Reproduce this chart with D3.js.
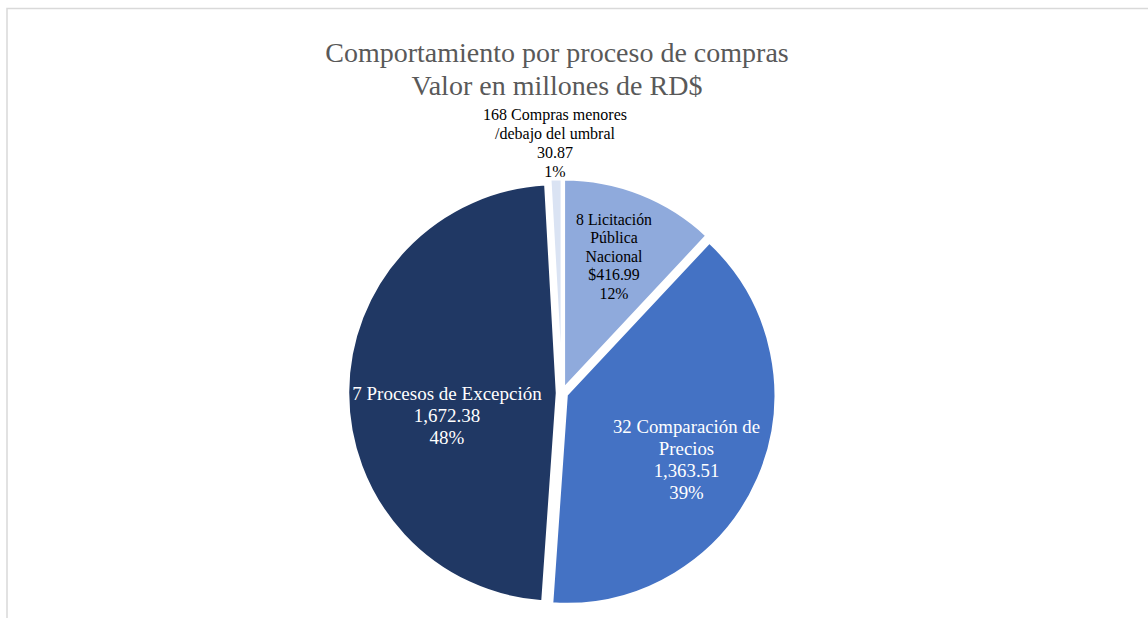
<!DOCTYPE html>
<html>
<head>
<meta charset="utf-8">
<script src="https://cdn.jsdelivr.net/npm/d3@7"></script>
<style>
  html, body { margin: 0; padding: 0; background: #fff; }
  svg text { font-family: "Liberation Serif", "Times New Roman", serif; }
</style>
</head>
<body>
<div id="chart"></div>
<script>
// data
var categories = ['8 Licitación Pública Nacional', '32 Comparación de Precios',
                  '7 Procesos de Excepción', '168 Compras menores /debajo del umbral'];
var values = [416.99, 1363.51, 1672.38, 30.87];
var value_labels = ['$416.99', '1,363.51', '1,672.38', '30.87'];
var pct_labels = ['12%', '39%', '48%', '1%'];
var label_lines = [
    ['8 Licitación', 'Pública', 'Nacional'],
    ['32 Comparación de', 'Precios'],
    ['7 Procesos de Excepción'],
    ['168 Compras menores', '/debajo del umbral']
];
var slice_colors = ['#8faadc', '#4472c4', '#203864', '#dae3f3'];
var text_colors = ['#000000', '#ffffff', '#ffffff', '#000000'];
var title_lines = ['Comportamiento por proceso de compras', 'Valor en millones de RD$'];

var width = 1148, height = 618;
var center = {x: 562, y: 393};
var radius = 209;
var explode = 5;

var svg = d3.select('#chart').append('svg')
    .attr('width', width)
    .attr('height', height);

// chart area border
svg.append('rect')
    .attr('x', 7)
    .attr('y', 8.5)
    .attr('width', width + 20)
    .attr('height', height + 20)
    .style('fill', 'none')
    .style('stroke', '#d9d9d9')
    .style('stroke-width', 1.5);

// title
svg.append('g').selectAll('text')
    .data(title_lines)
    .enter()
    .append('text')
    .attr('x', 557)
    .attr('y', function(d, i){ return 52 + i*33; })
    .attr('text-anchor', 'middle')
    .attr('dominant-baseline', 'central')
    .style('font-size', '28px')
    .style('fill', '#595959')
    .text(function(d){ return d; });

var pie = d3.pie().sort(null).value(function(d){ return d; });
var arcs = pie(values);

var arc = d3.arc().innerRadius(0).outerRadius(radius);

function offset(d, dist){
    var mid = (d.startAngle + d.endAngle)/2;
    return [Math.sin(mid)*dist, -Math.cos(mid)*dist];
}

var pie_group = svg.append('g')
    .attr('transform', 'translate(' + center.x + ',' + center.y + ')');

pie_group.selectAll('.slice')
    .data(arcs)
    .enter()
    .append('path')
    .classed('slice', true)
    .attr('transform', function(d){
        var o = offset(d, explode);
        return 'translate(' + o[0] + ',' + o[1] + ')';
    })
    .attr('d', arc)
    .style('fill', function(d, i){ return slice_colors[i]; })
    .style('stroke', '#ffffff')
    .style('stroke-width', 2.5);

// label anchors (centre of each label block, relative to pie centre)
var label_pos = [
    [52, -137],
    [124.5, 66.5],
    [-115, 22],
    [-7, -250]
];
var line_height = [18.5, 21.7, 22, 18.8];
var font_size = [15.8, 18.8, 19, 16];

var label_group = pie_group.selectAll('.slice-label')
    .data(arcs)
    .enter()
    .append('text')
    .classed('slice-label', true)
    .attr('text-anchor', 'middle')
    .style('font-size', function(d, i){ return font_size[i] + 'px'; })
    .style('fill', function(d, i){ return text_colors[i]; });

label_group.each(function(d, i){
    var lines = label_lines[i].concat([value_labels[i], pct_labels[i]]);
    var h = line_height[i];
    var top = label_pos[i][1] - (lines.length - 1)*h/2;
    d3.select(this).selectAll('tspan')
        .data(lines)
        .enter()
        .append('tspan')
        .attr('x', label_pos[i][0])
        .attr('y', function(l, j){ return top + j*h; })
        .attr('dominant-baseline', 'central')
        .text(function(l){ return l; });
});
</script>
</body>
</html>
